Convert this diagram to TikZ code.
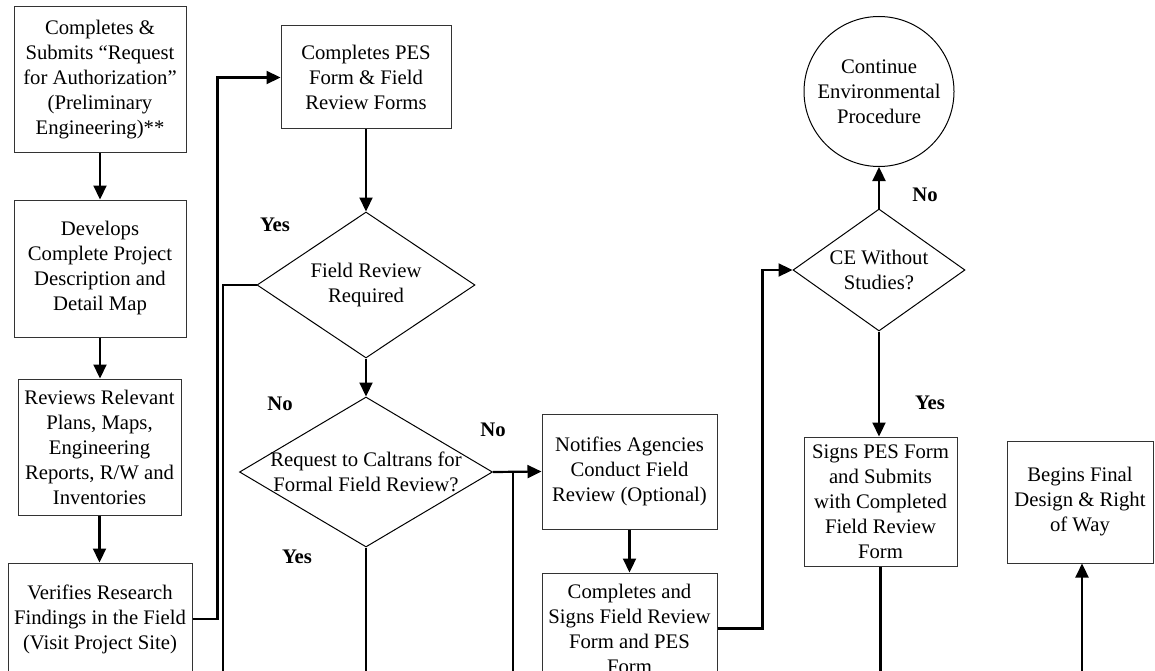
\documentclass[tikz,border=0pt]{standalone}
\usepackage{fontspec}
\setmainfont{Liberation Serif}
\usetikzlibrary{shapes.geometric,arrows.meta}
\begin{document}
\begin{tikzpicture}[x=1pt,y=-1pt,
  every node/.style={font=\fontsize{20.7}{25}\selectfont},
  box/.style={draw=black!80,line width=1pt,rectangle,inner sep=0pt,align=center},
  dia/.style={draw=black,line width=1pt,diamond,inner sep=0pt},
  txt/.style={align=center,inner sep=0pt},
  lbl/.style={font=\fontsize{20.7}{25}\selectfont\bfseries,inner sep=0pt},
  conn/.style={line width=2.2pt},
  arr/.style={conn,-{Triangle[length=14pt,width=13pt]}}]
\useasboundingbox (0,0) rectangle (1155,671);
\clip (0,0) rectangle (1155,671);
\fill[white] (0,0) rectangle (1155,671);
% left column
\node[box,minimum width=172,minimum height=146] (b1) at (100,80) {Completes \&\\Submits “Request\\for Authorization”\\(Preliminary\\Engineering)**};
\node[box,minimum width=172,minimum height=137] (b2) at (100,268.5) {Develops\\Complete Project\\Description and\\Detail Map};
\node[box,minimum width=163,minimum height=136] (b3) at (99.5,447) {Reviews Relevant\\Plans, Maps,\\Engineering\\Reports, R/W and\\Inventories};
\node[box,minimum width=184,minimum height=112] (b4) at (100,619) {Verifies Research\\Findings in the Field\\(Visit Project Site)};
% second column
\node[box,minimum width=170,minimum height=103] (pes) at (366,77.5) {Completes PES\\Form \& Field\\Review Forms};
\node[dia,minimum width=218,minimum height=146] (d1) at (366,285) {};
\node[txt] (d1t) at (d1) {Field Review\\Required};
\node[dia,minimum width=253,minimum height=150] (d2) at (366,472) {};
\node[txt] (d2t) at (d2) {Request to Caltrans for\\Formal Field Review?};
% third column
\node[box,minimum width=175,minimum height=115] (nf) at (629.5,471.5) {Notifies Agencies\\Conduct Field\\Review (Optional)};
\node[box,minimum width=175,minimum height=111] (csf) at (629.5,628.5) {Completes and\\Signs Field Review\\Form and PES\\Form};
% fourth column
\node[draw=black,line width=1pt,circle,minimum size=150,inner sep=0pt,align=center] (ci) at (879,91.5) {Continue\\Environmental\\Procedure};
\node[dia,minimum width=172,minimum height=122] (d3) at (879,270) {};
\node[txt] (d3t) at (d3) {CE Without\\Studies?};
\node[box,minimum width=153,minimum height=129] (sg) at (880.5,501.5) {Signs PES Form\\and Submits\\with Completed\\Field Review\\Form};
\node[box,minimum width=146,minimum height=122] (bg) at (1080,502) {Begins Final\\Design \& Right\\of Way};
% labels
\node[lbl] (y1) at (275,225) {Yes};
\node[lbl] (n1) at (280,404) {No};
\node[lbl] (n2) at (493,430) {No};
\node[lbl] (y2) at (297,557) {Yes};
\node[lbl] (n3) at (925,195) {No};
\node[lbl] (y3) at (930,403) {Yes};
% coordinates
\coordinate (e1) at (223,690);
\coordinate (e2) at (366,690);
\coordinate (j1) at (513,472);
\coordinate (e3) at (513,690);
\coordinate (e4) at (881,690);
\coordinate (e5) at (1082,690);
% connectors
\draw[arr] (b1.south) -- (b2.north);
\draw[arr] (b2.south) -- (b2.south |- b3.north);
\draw[arr] (b3.south) -- (b3.south |- b4.north);
\draw[arr] (b4.east) -- ++(25,0) |- (pes.west);
\draw[arr] (pes.south) -- (d1.north);
\draw[conn] (d1.west) -| (e1);
\draw[arr] (d1.south) -- (d2.north);
\draw[conn] (d2.south) -- (e2);
\draw[arr] (d2.east) -- (nf.west);
\draw[conn] (j1) -- (e3);
\draw[arr] (nf.south) -- (csf.north);
\draw[arr] (csf.east) -- ++(45,0) |- (d3.west);
\draw[arr] (d3.north) -- (ci.south);
\draw[arr] (d3.south) -- (d3.south |- sg.north);
\draw[conn] (sg.south) -- (sg.south |- e4);
\draw[arr] (e5) -- (e5 |- bg.south);
\end{tikzpicture}
\end{document}
